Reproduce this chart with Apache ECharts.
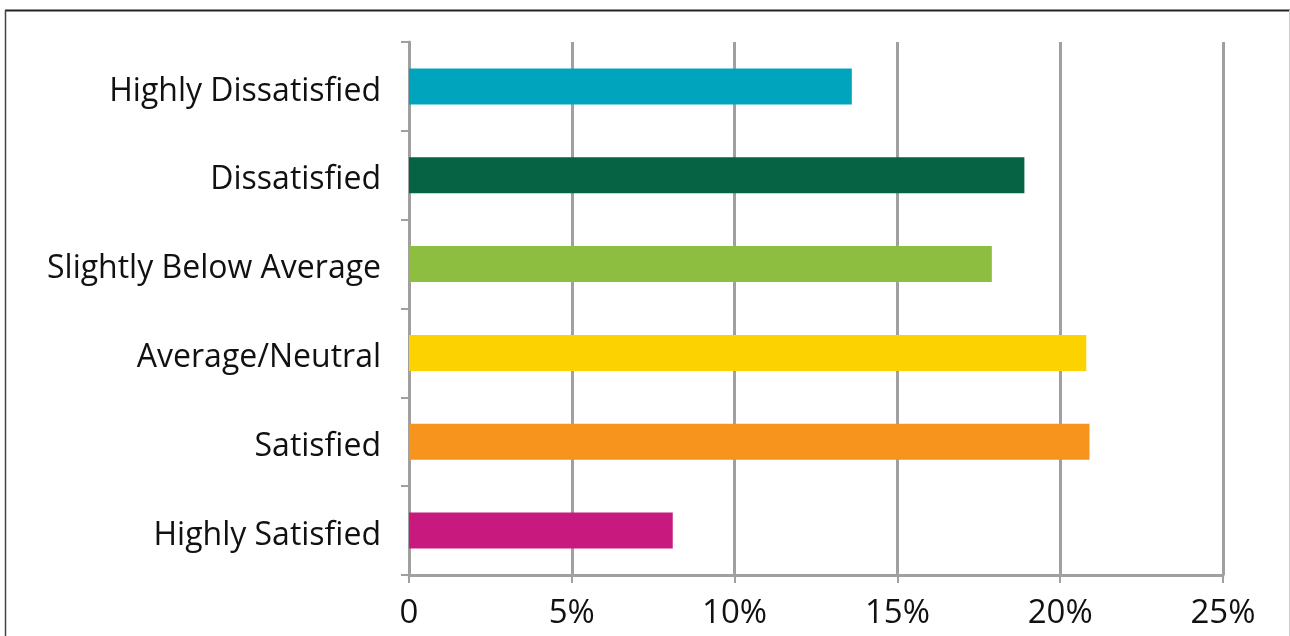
<!DOCTYPE html>
<html>
<head>
<meta charset="utf-8">
<script src="https://cdn.jsdelivr.net/npm/echarts@6/dist/echarts.min.js"></script>
<style>
html,body{margin:0;padding:0;background:#fff;}
#chart{width:1290px;height:636px;}
</style>
</head>
<body>
<div id="chart"></div>
<script>
const categories = ['Highly Dissatisfied','Dissatisfied','Slightly Below Average','Average/Neutral','Satisfied','Highly Satisfied'];
const values = [13.6, 18.9, 17.9, 20.8, 20.9, 8.1];
const barColors = ['#00A5BD','#066344','#8DBE3F','#FCD200','#F7941E','#C8197F'];
const xTicks = [0, 5, 10, 15, 20, 25];

const chart = echarts.init(document.getElementById('chart'), null, {renderer:'canvas'});
const font = 'Open Sans';
chart.setOption({
  animation:false,
  backgroundColor:'#fff',
  grid:{left:409, right:67, top:42, bottom:61, containLabel:false},
  xAxis:{
    type:'value', min:xTicks[0], max:xTicks[xTicks.length-1], interval:5,
    axisLine:{show:true, lineStyle:{color:'#A0A0A0', width:3}},
    axisTick:{show:true, length:8, lineStyle:{color:'#A0A0A0', width:2}},
    splitLine:{show:true, lineStyle:{color:'#A0A0A0', width:3}},
    axisLabel:{fontFamily:font, fontSize:33, color:'#111', margin:22, letterSpacing:1,
      formatter:v => v===0 ? '0' : v+'%'}
  },
  yAxis:{
    type:'category', data:categories, inverse:true,
    axisLine:{show:true, lineStyle:{color:'#A0A0A0', width:3}},
    axisTick:{show:true, length:8, lineStyle:{color:'#A0A0A0', width:2}},
    axisLabel:{margin:28, formatter:v => '{a|' + v + '}',
      rich:{a:{fontFamily:font, fontSize:32, color:'#111', padding:[10,0,0,0]}}}
  },
  series:[{
    type:'bar',
    data:values.map((v,i)=>({value:v, itemStyle:{color:barColors[i]}})),
    barWidth:36,
    z:3
  }],
  graphic:[
    {type:'line', shape:{x1:5, y1:10.5, x2:1290, y2:10.5}, style:{stroke:'#222', lineWidth:2}, silent:true},
    {type:'line', shape:{x1:5.5, y1:10, x2:5.5, y2:636}, style:{stroke:'#444', lineWidth:1.5}, silent:true},
    {type:'line', shape:{x1:1289.5, y1:10, x2:1289.5, y2:636}, style:{stroke:'#ccc', lineWidth:1}, silent:true}
  ]
});
</script>
</body>
</html>
